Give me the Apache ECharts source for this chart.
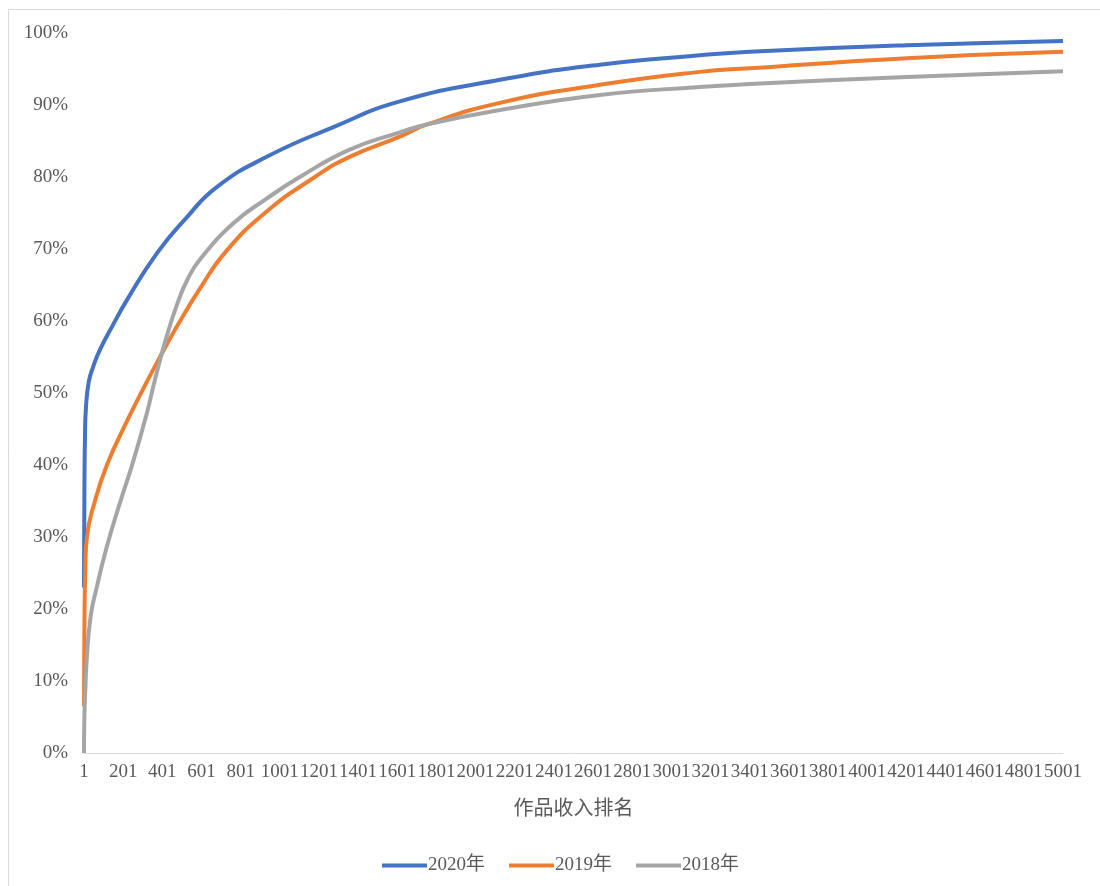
<!DOCTYPE html>
<html>
<head>
<meta charset="utf-8">
<script src="https://cdn.jsdelivr.net/npm/echarts@6/dist/echarts.min.js"></script>
<style>
html,body{margin:0;padding:0;background:#fff;}
#c{width:1100px;height:886px;}
</style>
</head>
<body>
<div id="c"></div>
<script>
var seriesNames = ['2020年', '2019年', '2018年'];
var rankFirst = 1, rankLast = 5001;
var labelStep = 200;
var yTicks = [0, 0.1, 0.2, 0.3, 0.4, 0.5, 0.6, 0.7, 0.8, 0.9, 1.0];

var ranks2020 = [1, 3, 6, 11, 25, 46, 82, 150, 220, 373, 526, 679, 934, 1272, 1614, 2125, 2636, 3146, 3401, 4203, 5001];
var vals2020  = [0.23, 0.36, 0.44, 0.48, 0.515, 0.535, 0.56, 0.595, 0.629, 0.694, 0.744, 0.786, 0.828, 0.869, 0.905, 0.935, 0.956, 0.969, 0.974, 0.983, 0.989];

var ranks2019 = [1, 3, 8, 16, 57, 118, 210, 302, 379, 481, 593, 721, 925, 1180, 1358, 1614, 1752, 2125, 2636, 3146, 3401, 4203, 5001];
var vals2019  = [0.065, 0.17, 0.26, 0.30, 0.35, 0.40, 0.455, 0.505, 0.545, 0.595, 0.645, 0.695, 0.75, 0.80, 0.828, 0.856, 0.873, 0.903, 0.928, 0.946, 0.951, 0.965, 0.974];

var ranks2018 = [1, 3, 8, 15, 35, 66, 117, 184, 250, 322, 363, 414, 475, 530, 592, 761, 934, 1103, 1358, 1614, 1752, 2125, 2636, 3146, 3401, 4203, 5001];
var vals2018  = [0.0, 0.05, 0.09, 0.13, 0.19, 0.23, 0.286, 0.347, 0.403, 0.472, 0.518, 0.57, 0.622, 0.658, 0.685, 0.735, 0.77, 0.80, 0.838, 0.862, 0.873, 0.893, 0.914, 0.925, 0.929, 0.939, 0.947];

var categories = [];
for (var r = rankFirst; r <= rankLast; r++) categories.push(String(r));

function pairs(ranks, vals) {
  return ranks.map(function (rk, i) { return [rk - rankFirst, vals[i]]; });
}

var colors = ['#4472C4', '#ED7D31', '#A5A5A5'];
var serif = '"Liberation Serif", "Times New Roman", "Noto Sans CJK SC", serif';
var txt = '#595959';

function mkSeries(name, data, color) {
  return {
    name: name, type: 'line', data: data, smooth: 0.5,
    symbol: 'none', showSymbol: false,
    lineStyle: { width: 4, color: color }, itemStyle: { color: color },
    z: 3
  };
}

var chart = echarts.init(document.getElementById('c'), null, { renderer: 'canvas' });
chart.setOption({
  animation: false,
  backgroundColor: '#fff',
  graphic: [{
    type: 'rect', silent: true, z: -1,
    shape: { x: 8.5, y: 9.5, width: 1200, height: 1000 },
    style: { fill: 'none', stroke: '#d9d9d9', lineWidth: 1 }
  }],
  grid: { left: 84, right: 37, top: 33, bottom: 133, containLabel: false },
  legend: {
    data: seriesNames, left: 377, top: 851,
    icon: 'rect', itemWidth: 45, itemHeight: 4, itemGap: 24,
    textStyle: { color: txt, fontSize: 19, fontFamily: serif, padding: [0, 0, 0, -4] }
  },
  xAxis: {
    type: 'category', data: categories, boundaryGap: false,
    name: '作品收入排名', nameLocation: 'middle', nameGap: 44,
    nameTextStyle: { color: txt, fontSize: 20, fontFamily: '"Noto Sans CJK SC", sans-serif' },
    axisLine: { show: true, lineStyle: { color: '#d9d9d9', width: 1 } },
    axisTick: { show: false },
    axisLabel: { interval: labelStep - 1, color: txt, fontSize: 19, fontFamily: serif, margin: 10, showMaxLabel: true },
    splitLine: { show: false }
  },
  yAxis: {
    type: 'value', min: yTicks[0], max: yTicks[yTicks.length - 1], interval: 0.1,
    axisLine: { show: false }, axisTick: { show: false },
    axisLabel: {
      color: txt, fontSize: 19, fontFamily: serif, margin: 16,
      formatter: function (v) { return Math.round(v * 100) + '%'; }
    },
    splitLine: { show: false }
  },
  series: [
    mkSeries(seriesNames[0], pairs(ranks2020, vals2020), colors[0]),
    mkSeries(seriesNames[1], pairs(ranks2019, vals2019), colors[1]),
    mkSeries(seriesNames[2], pairs(ranks2018, vals2018), colors[2])
  ]
});
</script>
</body>
</html>
